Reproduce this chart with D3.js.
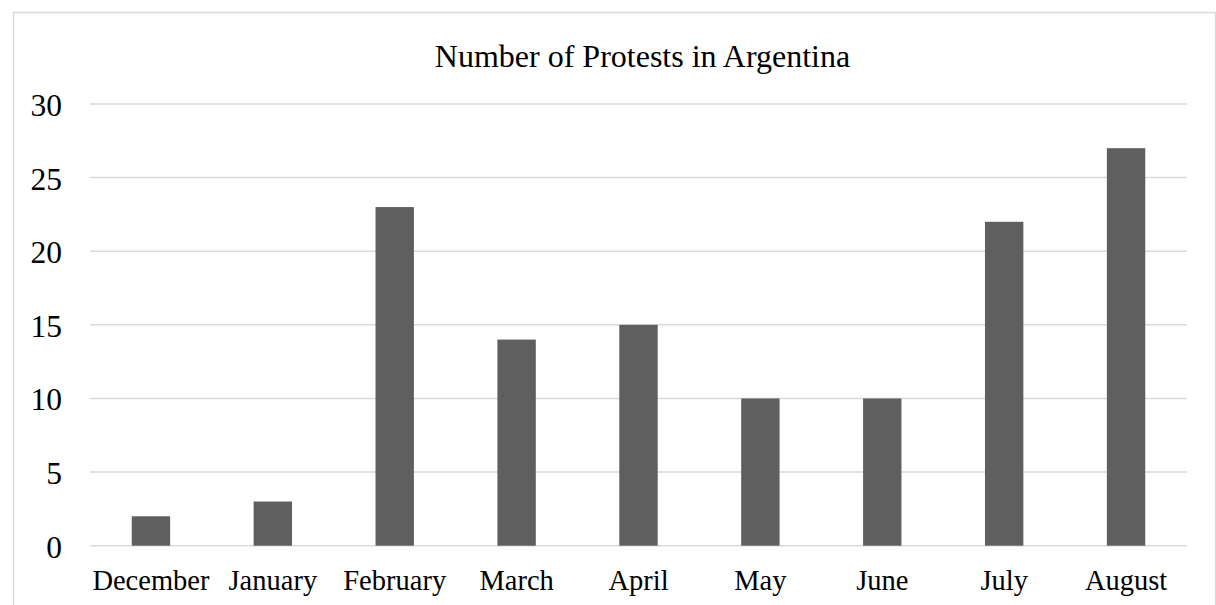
<!DOCTYPE html>
<html><head><meta charset="utf-8">
<script src="https://cdn.jsdelivr.net/npm/d3@7"></script>
<style>html,body{margin:0;padding:0;background:#fff;overflow:hidden}</style>
</head><body>
<script>
const categories = ["December","January","February","March","April","May","June","July","August"];
const protests = [2,3,23,14,15,10,10,22,27];
const yTicks = [0,5,10,15,20,25,30];
const title = "Number of Protests in Argentina";

const W = 1216, H = 605;
const svg = d3.select("body").append("svg").attr("width", W).attr("height", H);
const font = "'Liberation Serif','Times New Roman',serif";

svg.append("rect").attr("x",13.5).attr("y",12.5).attr("width",1202).attr("height",610)
  .attr("fill","#fff").attr("stroke","#d9d9d9").attr("stroke-width",1.5);

const m = {left:90, right:1187, top:104, bottom:545.7};
const x = d3.scaleBand().domain(categories).range([m.left, m.right]).paddingInner(0.685).paddingOuter(0.3425);
const y = d3.scaleLinear().domain([0,30]).range([m.bottom, m.top]);

svg.append("g").selectAll("line").data(yTicks).join("line")
  .attr("x1", m.left).attr("x2", m.right)
  .attr("y1", d => y(d)).attr("y2", d => y(d))
  .attr("stroke","#d9d9d9").attr("stroke-width",1.5);

svg.append("g").selectAll("text").data(yTicks).join("text")
  .attr("x", 62).attr("y", d => y(d) + 12)
  .attr("text-anchor","end").attr("font-family",font).attr("font-size",31.5).attr("fill","#000")
  .text(d => d);

svg.append("g").selectAll("rect").data(protests).join("rect")
  .attr("x", (d,i) => x(categories[i]))
  .attr("width", x.bandwidth())
  .attr("y", d => y(d))
  .attr("height", d => y(0) - y(d))
  .attr("fill","#5f5f5f");

svg.append("g").selectAll("text").data(categories).join("text")
  .attr("x", d => x(d) + x.bandwidth()/2).attr("y", 590)
  .attr("text-anchor","middle").attr("font-family",font).attr("font-size",28.5).attr("fill","#000")
  .text(d => d);

svg.append("text").attr("x", 642.5).attr("y", 67).attr("text-anchor","middle")
  .attr("font-family",font).attr("font-size",32).attr("fill","#000").text(title);
</script>
</body></html>
